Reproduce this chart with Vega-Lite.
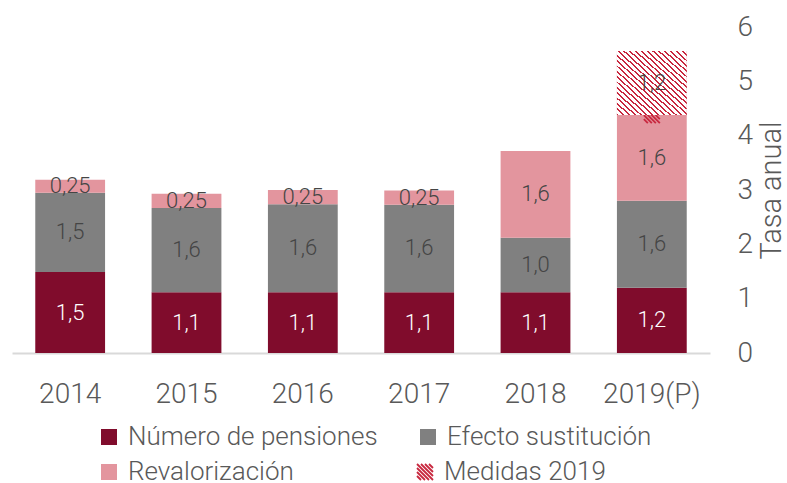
{
  "$schema": "https://vega.github.io/schema/vega-lite/v6.json",
  "width": 698,
  "height": 326,
  "autosize": "none",
  "padding": {"left": 12, "top": 27, "right": 77, "bottom": 130},
  "background": "white",
  "config": {"view": {"stroke": null}, "font": "Roboto"},
  "data": {
    "values": [
      {"year": "2014", "series": "Número de pensiones", "order": 1, "value": 1.49, "label": "1,5"},
      {"year": "2014", "series": "Efecto sustitución", "order": 2, "value": 1.46, "label": "1,5"},
      {"year": "2014", "series": "Revalorización", "order": 3, "value": 0.24, "label": "0,25"},
      {"year": "2015", "series": "Número de pensiones", "order": 1, "value": 1.12, "label": "1,1"},
      {"year": "2015", "series": "Efecto sustitución", "order": 2, "value": 1.55, "label": "1,6"},
      {"year": "2015", "series": "Revalorización", "order": 3, "value": 0.26, "label": "0,25"},
      {"year": "2016", "series": "Número de pensiones", "order": 1, "value": 1.12, "label": "1,1"},
      {"year": "2016", "series": "Efecto sustitución", "order": 2, "value": 1.62, "label": "1,6"},
      {"year": "2016", "series": "Revalorización", "order": 3, "value": 0.26, "label": "0,25"},
      {"year": "2017", "series": "Número de pensiones", "order": 1, "value": 1.12, "label": "1,1"},
      {"year": "2017", "series": "Efecto sustitución", "order": 2, "value": 1.61, "label": "1,6"},
      {"year": "2017", "series": "Revalorización", "order": 3, "value": 0.26, "label": "0,25"},
      {"year": "2018", "series": "Número de pensiones", "order": 1, "value": 1.12, "label": "1,1"},
      {"year": "2018", "series": "Efecto sustitución", "order": 2, "value": 1.0, "label": "1,0"},
      {"year": "2018", "series": "Revalorización", "order": 3, "value": 1.6, "label": "1,6"},
      {"year": "2019(P)", "series": "Número de pensiones", "order": 1, "value": 1.2, "label": "1,2"},
      {"year": "2019(P)", "series": "Efecto sustitución", "order": 2, "value": 1.6, "label": "1,6"},
      {"year": "2019(P)", "series": "Revalorización", "order": 3, "value": 1.58, "label": "1,6"},
      {"year": "2019(P)", "series": "Medidas 2019", "order": 4, "value": 1.18, "label": "1,2"}
    ]
  },
  "transform": [
    {"stack": "value", "groupby": ["year"], "sort": [{"field": "order", "order": "ascending"}], "as": ["lo", "hi"]}
  ],
  "encoding": {
    "x": {
      "field": "year", "type": "nominal", "sort": null,
      "scale": {"paddingInner": 0.4, "paddingOuter": 0.2},
      "axis": {"title": null, "labelAngle": 0, "ticks": false, "domainColor": "#d9d9d9", "domainWidth": 2,
               "labelFontSize": 28, "labelColor": "#595959", "labelFont": "Roboto", "labelFontWeight": 300, "labelPadding": 27}
    },
    "y": {
      "field": "lo", "type": "quantitative",
      "scale": {"domain": [0, 6], "nice": false},
      "axis": {"orient": "right", "title": "Tasa anual", "values": [0, 1, 2, 3, 4, 5, 6], "grid": false, "domain": false, "ticks": false,
               "labelFontSize": 28, "labelColor": "#595959", "labelFont": "Roboto", "labelFontWeight": 300, "labelPadding": 27, "labelAlign": "left",
               "titleFontSize": 29, "titleColor": "#595959", "titleFont": "Roboto", "titleFontWeight": 300, "titleAngle": 270,
               "titleAlign": "center", "titleBaseline": "middle", "titleX": 61, "titleY": 163}
    }
  },
  "layer": [
    {
      "mark": {"type": "bar"},
      "encoding": {
        "y2": {"field": "hi"},
        "color": {
          "field": "series", "type": "nominal",
          "scale": {"domain": ["Número de pensiones", "Efecto sustitución", "Revalorización", "Medidas 2019"],
                    "range": ["#800c2c", "#808080", "#e3959e", "#e07a8c"]},
          "legend": {
            "title": null, "orient": "none", "legendX": 84, "legendY": 397, "direction": "horizontal", "columns": 2, "columnPadding": 37, "rowPadding": 9, "padding": 0,
            "values": ["Número de pensiones", "Efecto sustitución", "Revalorización"],
            "symbolType": "square", "symbolSize": 256, "symbolStrokeWidth": 0, "labelFontSize": 26, "labelFont": "Roboto",
            "labelFontWeight": 300, "labelColor": "#595959", "labelOffset": 6, "labelLimit": 400
          }
        }
      }
    },
    {
      "transform": [{"filter": "datum.series === 'Medidas 2019'"}],
      "mark": {
        "type": "point", "filled": false, "stroke": "#c8283f", "strokeWidth": 1.8, "size": 256,
        "shape": "M-1,-1L1,1M-0.5,-1L1,0.5M0,-1L1,0M0.5,-1L1,-0.5M-1,-0.5L0.5,1M-1,0L0,1M-1,0.5L-0.5,1",
        "dy": {"expr": "(scale('y', datum.hi) - scale('y', datum.lo)) / 2"}
      },
      "encoding": {
        "opacity": {
          "field": "series", "type": "nominal",
          "scale": {"domain": ["Medidas 2019"], "range": [1]},
          "legend": {
            "title": null, "orient": "none", "legendX": 400, "legendY": 432, "padding": 0,
            "symbolType": "M-1,-1L1,1M-0.5,-1L1,0.5M0,-1L1,0M0.5,-1L1,-0.5M-1,-0.5L0.5,1M-1,0L0,1M-1,0.5L-0.5,1",
            "symbolSize": 256, "symbolStrokeColor": "#c8283f", "symbolStrokeWidth": 1.8,
            "labelFontSize": 26, "labelFont": "Roboto", "labelFontWeight": 300, "labelColor": "#595959", "labelOffset": 6, "labelLimit": 400
          }
        }
      }
    },
    {
      "transform": [{"filter": "datum.series === 'Medidas 2019'"}],
      "encoding": {"y2": {"field": "hi"}},
      "mark": {
        "type": "bar",
        "fill": {
          "gradient": "linear", "x1": 0, "y1": 1, "x2": 1, "y2": 0,
          "stops": [
            {"offset": 0.0, "color": "#c8283f"}, {"offset": 0.0146, "color": "#c8283f"}, {"offset": 0.0146, "color": "#ffffff"}, {"offset": 0.0417, "color": "#ffffff"},
            {"offset": 0.0417, "color": "#c8283f"}, {"offset": 0.0563, "color": "#c8283f"}, {"offset": 0.0563, "color": "#ffffff"}, {"offset": 0.0833, "color": "#ffffff"},
            {"offset": 0.0833, "color": "#c8283f"}, {"offset": 0.0979, "color": "#c8283f"}, {"offset": 0.0979, "color": "#ffffff"}, {"offset": 0.125, "color": "#ffffff"},
            {"offset": 0.125, "color": "#c8283f"}, {"offset": 0.1396, "color": "#c8283f"}, {"offset": 0.1396, "color": "#ffffff"}, {"offset": 0.1667, "color": "#ffffff"},
            {"offset": 0.1667, "color": "#c8283f"}, {"offset": 0.1813, "color": "#c8283f"}, {"offset": 0.1813, "color": "#ffffff"}, {"offset": 0.2083, "color": "#ffffff"},
            {"offset": 0.2083, "color": "#c8283f"}, {"offset": 0.2229, "color": "#c8283f"}, {"offset": 0.2229, "color": "#ffffff"}, {"offset": 0.25, "color": "#ffffff"},
            {"offset": 0.25, "color": "#c8283f"}, {"offset": 0.2646, "color": "#c8283f"}, {"offset": 0.2646, "color": "#ffffff"}, {"offset": 0.2917, "color": "#ffffff"},
            {"offset": 0.2917, "color": "#c8283f"}, {"offset": 0.3063, "color": "#c8283f"}, {"offset": 0.3063, "color": "#ffffff"}, {"offset": 0.3333, "color": "#ffffff"},
            {"offset": 0.3333, "color": "#c8283f"}, {"offset": 0.3479, "color": "#c8283f"}, {"offset": 0.3479, "color": "#ffffff"}, {"offset": 0.375, "color": "#ffffff"},
            {"offset": 0.375, "color": "#c8283f"}, {"offset": 0.3896, "color": "#c8283f"}, {"offset": 0.3896, "color": "#ffffff"}, {"offset": 0.4167, "color": "#ffffff"},
            {"offset": 0.4167, "color": "#c8283f"}, {"offset": 0.4313, "color": "#c8283f"}, {"offset": 0.4313, "color": "#ffffff"}, {"offset": 0.4583, "color": "#ffffff"},
            {"offset": 0.4583, "color": "#c8283f"}, {"offset": 0.4729, "color": "#c8283f"}, {"offset": 0.4729, "color": "#ffffff"}, {"offset": 0.5, "color": "#ffffff"},
            {"offset": 0.5, "color": "#c8283f"}, {"offset": 0.5146, "color": "#c8283f"}, {"offset": 0.5146, "color": "#ffffff"}, {"offset": 0.5417, "color": "#ffffff"},
            {"offset": 0.5417, "color": "#c8283f"}, {"offset": 0.5563, "color": "#c8283f"}, {"offset": 0.5563, "color": "#ffffff"}, {"offset": 0.5833, "color": "#ffffff"},
            {"offset": 0.5833, "color": "#c8283f"}, {"offset": 0.5979, "color": "#c8283f"}, {"offset": 0.5979, "color": "#ffffff"}, {"offset": 0.625, "color": "#ffffff"},
            {"offset": 0.625, "color": "#c8283f"}, {"offset": 0.6396, "color": "#c8283f"}, {"offset": 0.6396, "color": "#ffffff"}, {"offset": 0.6667, "color": "#ffffff"},
            {"offset": 0.6667, "color": "#c8283f"}, {"offset": 0.6813, "color": "#c8283f"}, {"offset": 0.6813, "color": "#ffffff"}, {"offset": 0.7083, "color": "#ffffff"},
            {"offset": 0.7083, "color": "#c8283f"}, {"offset": 0.7229, "color": "#c8283f"}, {"offset": 0.7229, "color": "#ffffff"}, {"offset": 0.75, "color": "#ffffff"},
            {"offset": 0.75, "color": "#c8283f"}, {"offset": 0.7646, "color": "#c8283f"}, {"offset": 0.7646, "color": "#ffffff"}, {"offset": 0.7917, "color": "#ffffff"},
            {"offset": 0.7917, "color": "#c8283f"}, {"offset": 0.8063, "color": "#c8283f"}, {"offset": 0.8063, "color": "#ffffff"}, {"offset": 0.8333, "color": "#ffffff"},
            {"offset": 0.8333, "color": "#c8283f"}, {"offset": 0.8479, "color": "#c8283f"}, {"offset": 0.8479, "color": "#ffffff"}, {"offset": 0.875, "color": "#ffffff"},
            {"offset": 0.875, "color": "#c8283f"}, {"offset": 0.8896, "color": "#c8283f"}, {"offset": 0.8896, "color": "#ffffff"}, {"offset": 0.9167, "color": "#ffffff"},
            {"offset": 0.9167, "color": "#c8283f"}, {"offset": 0.9313, "color": "#c8283f"}, {"offset": 0.9313, "color": "#ffffff"}, {"offset": 0.9583, "color": "#ffffff"},
            {"offset": 0.9583, "color": "#c8283f"}, {"offset": 0.9729, "color": "#c8283f"}, {"offset": 0.9729, "color": "#ffffff"}, {"offset": 1.0, "color": "#ffffff"}
          ]
        }
      }
    },
    {
      "mark": {"type": "text", "fontSize": 22, "font": "Roboto", "fontWeight": 300, "baseline": "middle", "align": "center",
               "dy": {"expr": "(scale('y', datum.hi) - scale('y', datum.lo)) / 2"}},
      "encoding": {
        "text": {"field": "label"},
        "color": {"condition": {"test": "datum.series === 'Número de pensiones'", "value": "#ffffff"}, "value": "#454545"}
      }
    }
  ]
}
